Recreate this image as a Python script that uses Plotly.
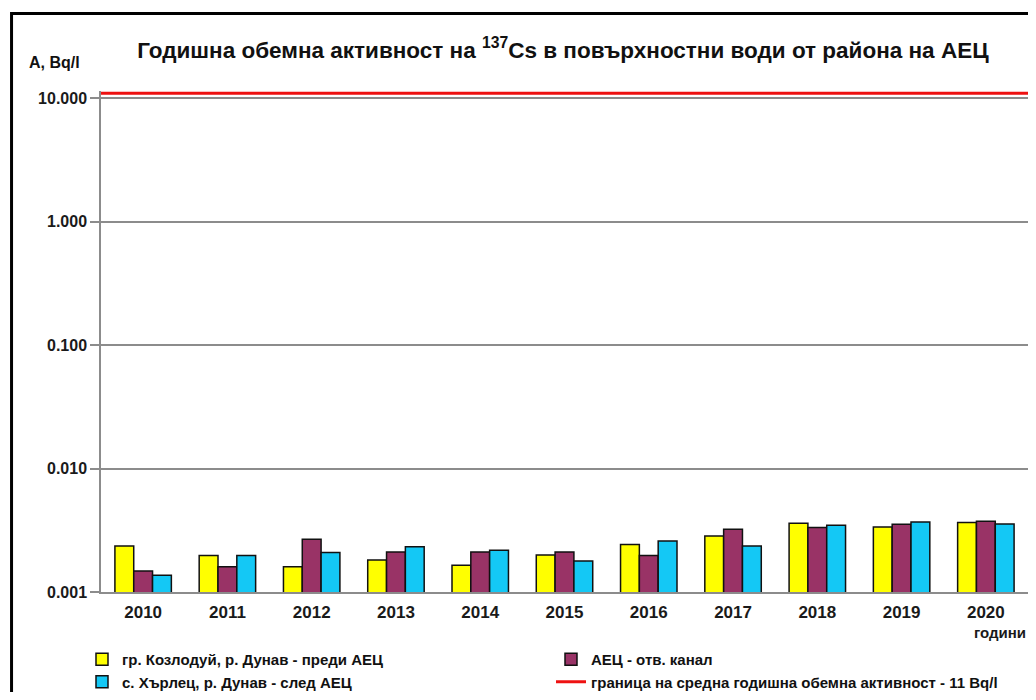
import plotly.graph_objects as go

years = ["2010", "2011", "2012", "2013", "2014", "2015", "2016", "2017", "2018", "2019", "2020"]
kozloduy = [0.00236, 0.00198, 0.00160, 0.00182, 0.00165, 0.00199, 0.00243, 0.00284, 0.00360, 0.00336, 0.00365]
npp_canal = [0.00148, 0.00160, 0.00267, 0.00211, 0.00211, 0.00211, 0.00198, 0.00322, 0.00333, 0.00354, 0.00374]
harlets = [0.00137, 0.00198, 0.00209, 0.00233, 0.00218, 0.00178, 0.00259, 0.00236, 0.00347, 0.00369, 0.00356]
limit_value = 11
limit_x = [0, 1]

names = ["гр. Козлодуй, р. Дунав - преди АЕЦ", "АЕЦ - отв. канал", "с. Хърлец, р. Дунав - след АЕЦ",
         "граница на средна годишна обемна активност - 11 Bq/l"]
colors = ["#FFFF00", "#993366", "#14C8F5"]

tick_vals = [0.001, 0.01, 0.1, 1, 10]
tick_text = ["0.001", "0.010", "0.100", "1.000", "10.000"]

BOLD = "Liberation Sans, Arial, sans-serif"

fig = go.Figure()
for vals, nm, col in zip([kozloduy, npp_canal, harlets], names[:3], colors):
    fig.add_trace(go.Bar(x=years, y=vals, name="<b>%s</b>" % nm,
                         marker=dict(color=col, line=dict(color="#111111", width=1.5))))

fig.add_trace(go.Scatter(x=limit_x, y=[limit_value, limit_value], mode="lines", name="<b>%s</b>" % names[3],
                         line=dict(color="#EE1111", width=3), xaxis="x2"))

# the page body has an 8px margin, so the figure is laid out 8px up/left of the target positions
fig.update_layout(
    width=1020, height=684, autosize=False,
    margin=dict(l=93, r=0, t=83, b=100, autoexpand=False),
    paper_bgcolor="white", plot_bgcolor="white",
    barmode="group", bargap=0.33, bargroupgap=0,
    font=dict(family=BOLD, color="#1a1a1a"),
    title=dict(text="<b>Годишна обемна активност на <sup>137</sup>Cs в повърхностни води от района на АЕЦ</b>",
               x=0.544, xanchor="center", y=0.9386, yanchor="middle",
               font=dict(family=BOLD, size=22.5, color="#111111")),
    xaxis=dict(type="category", showgrid=False, showline=True, linecolor="#8c8c8c", linewidth=1.5,
               ticks="", automargin=False, ticklabelstandoff=4,
               tickfont=dict(family=BOLD, size=17, color="#1a1a1a"),
               tickprefix="<b>", ticksuffix="</b>"),
    xaxis2=dict(overlaying="x", range=[0, 1], visible=False, fixedrange=True),
    yaxis=dict(type="log", range=[-3, 1.06], tickvals=tick_vals, ticktext=["<b>%s</b>" % t for t in tick_text],
               showgrid=True, gridcolor="#8c8c8c", gridwidth=1.5, zeroline=False, automargin=False,
               showline=True, linecolor="#8c8c8c", linewidth=1.5,
               ticks="outside", ticklen=9, tickcolor="#8c8c8c", tickwidth=1.5,
               tickfont=dict(family=BOLD, size=16, color="#1a1a1a")),
    legend=dict(orientation="h", x=-0.0205, xanchor="left", y=-0.1018, yanchor="top",
                entrywidth=424, font=dict(family=BOLD, size=15, color="#111111"),
                traceorder="normal", bgcolor="rgba(0,0,0,0)"),
    showlegend=True,
)

fig.add_annotation(text="<b>A, Bq/l</b>", xref="paper", yref="paper", x=-0.0798, y=1.056,
                   xanchor="left", yanchor="middle", showarrow=False,
                   font=dict(family=BOLD, size=16, color="#111111"))
fig.add_annotation(text="<b>години</b>", xref="paper", yref="paper", x=1.0, y=-0.08,
                   xanchor="right", yanchor="middle", showarrow=False,
                   font=dict(family=BOLD, size=15, color="#1a1a1a"))

fig.add_shape(type="rect", xref="paper", yref="paper", x0=-0.0965, x1=1.03, y0=-0.25, y1=1.1547,
              line=dict(color="black", width=3), fillcolor="rgba(0,0,0,0)")

fig.write_html("out.html")
